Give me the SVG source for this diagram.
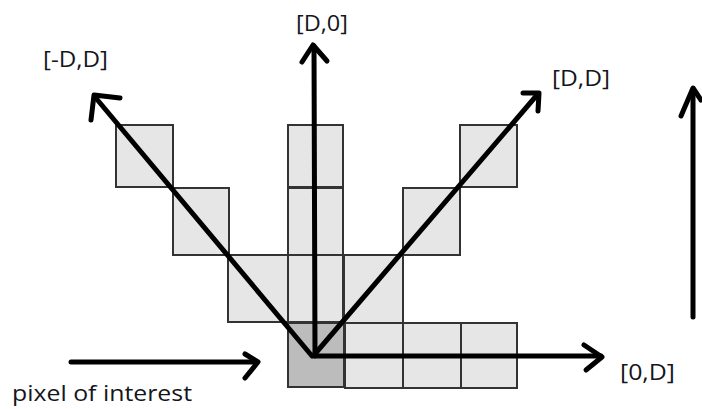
<svg xmlns="http://www.w3.org/2000/svg" width="702" height="409" viewBox="0 0 702 409">
  <style>
    .cell { fill: #e6e6e6; stroke: #333333; stroke-width: 2; }
    .cell.origin { fill: #bcbcbc; }
    .arrow { fill: none; stroke: #000000; stroke-width: 5; stroke-linecap: round; stroke-linejoin: round; }
    .lbl { font-family: "Open Sans", "Liberation Sans", sans-serif; font-size: 22px; fill: #151520; }
  </style>
  <rect x="0" y="0" width="702" height="409" fill="#ffffff"/>

  <!-- pixel grid -->
  <g id="cells">
    <rect class="cell" x="116" y="125" width="57" height="62"/>
    <rect class="cell" x="288" y="125" width="55" height="62"/>
    <rect class="cell" x="460" y="125" width="57" height="62"/>

    <rect class="cell" x="173" y="188" width="56" height="67"/>
    <rect class="cell" x="288" y="188" width="55" height="67"/>
    <rect class="cell" x="403" y="188" width="57" height="67"/>

    <rect class="cell" x="228" y="255" width="60" height="67"/>
    <rect class="cell" x="288" y="255" width="55" height="67"/>
    <rect class="cell" x="344" y="255" width="59" height="68"/>

    <rect class="cell origin" x="288" y="323" width="56" height="64"/>
    <rect class="cell" x="345" y="323" width="58" height="65"/>
    <rect class="cell" x="403" y="323" width="58" height="65"/>
    <rect class="cell" x="461" y="323" width="56" height="65"/>
  </g>

  <!-- direction arrows -->
  <g id="connectors">
    <!-- [D,0] -->
    <path class="arrow" d="M315,356 L314,46"/>
    <path class="arrow" d="M302,62 L313,45 L327,61"/>
    <!-- [-D,D] -->
    <path class="arrow" d="M312,356 L95,97"/>
    <path class="arrow" d="M91,120 L94,95 L120,98"/>
    <!-- [D,D] -->
    <path class="arrow" d="M314,355 L537,95"/>
    <path class="arrow" d="M523,93 L539,93 L538,111"/>
    <!-- [0,D] -->
    <path class="arrow" d="M314,356 L601,356"/>
    <path class="arrow" d="M584,345 L602,357 L586,370"/>
    <!-- pixel of interest pointer -->
    <path class="arrow" d="M71,362 L256,362"/>
    <path class="arrow" d="M245,354 L258,362 L245,378"/>
    <!-- stand-alone vertical arrow -->
    <path class="arrow" d="M693,317 L693,90"/>
    <path class="arrow" d="M681,116 L693,88 L701,100"/>
  </g>

  <g id="labels">
    <text class="lbl" x="322" y="31" text-anchor="middle" textLength="52" lengthAdjust="spacingAndGlyphs">[D,0]</text>
    <text class="lbl" x="43" y="67" textLength="65" lengthAdjust="spacingAndGlyphs">[-D,D]</text>
    <text class="lbl" x="552" y="86" textLength="58" lengthAdjust="spacingAndGlyphs">[D,D]</text>
    <text class="lbl" x="620" y="380" textLength="55" lengthAdjust="spacingAndGlyphs">[0,D]</text>
    <text class="lbl" x="12" y="401" textLength="180" lengthAdjust="spacingAndGlyphs">pixel of interest</text>
  </g>
</svg>
